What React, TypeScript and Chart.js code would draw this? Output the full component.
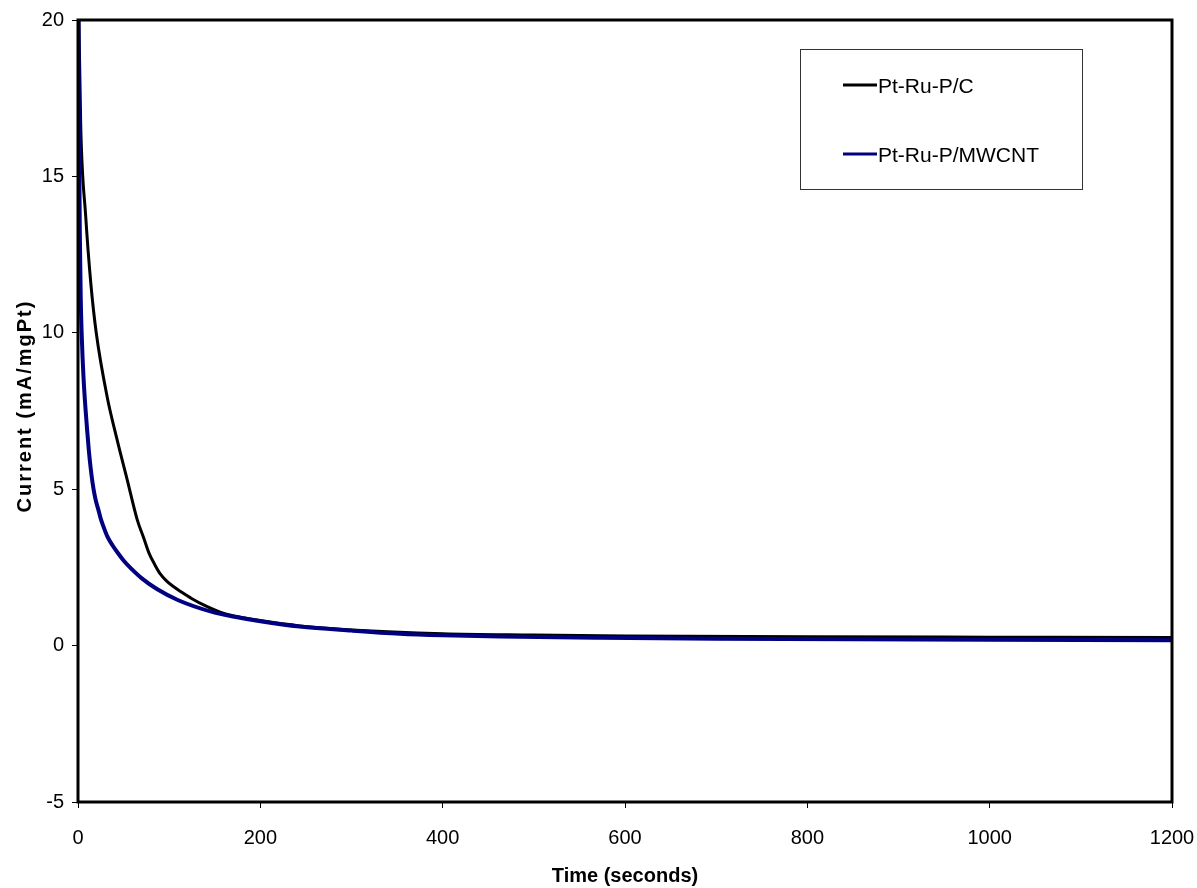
import React, { useEffect, useRef } from "react";
import { Chart, registerables } from "chart.js";

Chart.register(...registerables);

const seriesLabels = ["Pt-Ru-P/C", "Pt-Ru-P/MWCNT"];
const seriesColors = ["#000000", "#000080"];

const cTimes = [0, 1, 3, 8.4, 14, 20, 32, 43, 54, 65, 72, 78, 84, 90, 97, 105, 113, 125, 140, 160, 180, 200, 243, 300, 400, 500, 600, 800, 1000, 1200];
const cValues = [22, 20, 16.6, 13.75, 11.6, 10, 7.95, 6.57, 5.3, 4.02, 3.45, 2.95, 2.6, 2.3, 2.07, 1.88, 1.72, 1.5, 1.27, 1.03, 0.9, 0.8, 0.63, 0.5, 0.38, 0.34, 0.31, 0.28, 0.27, 0.26];

const mwTimes = [0, 1, 2, 3, 4, 6, 10, 12, 14, 16, 18, 20, 22, 25, 28, 32, 38, 44, 50, 57, 70, 87, 110, 149, 170, 200, 243, 300, 353, 400, 463, 573, 700, 850, 1000, 1200];
const mwValues = [24, 17, 13.2, 11.1, 10, 8.6, 6.9, 6.2, 5.65, 5.2, 4.85, 4.58, 4.38, 4.05, 3.8, 3.5, 3.2, 2.95, 2.72, 2.5, 2.15, 1.8, 1.45, 1.06, 0.93, 0.78, 0.61, 0.48, 0.38, 0.33, 0.29, 0.25, 0.22, 0.2, 0.19, 0.17];

const xTitle = "Time (seconds)";
const yTitle = "Current (mA/mgPt)";

const FONT = "'Liberation Sans', Arial, sans-serif";

const frameAndLegend = {
  id: "frameAndLegend",
  afterDraw(chart: any) {
    const { ctx, chartArea } = chart;
    ctx.save();
    ctx.strokeStyle = "#000";
    ctx.lineWidth = 3;
    ctx.strokeRect(chartArea.left, chartArea.top, chartArea.right - chartArea.left, chartArea.bottom - chartArea.top);

    // y axis title with letter spacing
    ctx.save();
    ctx.translate(25, (chartArea.top + chartArea.bottom) / 2 - 5);
    ctx.rotate(-Math.PI / 2);
    ctx.font = `bold 20px ${FONT}`;
    (ctx as any).letterSpacing = "2px";
    ctx.fillStyle = "#000";
    ctx.textAlign = "center";
    ctx.textBaseline = "middle";
    ctx.fillText(yTitle, 0, 0);
    ctx.restore();

    // legend box
    ctx.lineWidth = 1;
    ctx.strokeStyle = "#333";
    ctx.fillStyle = "#fff";
    ctx.fillRect(800.5, 49.5, 282, 140);
    ctx.strokeRect(800.5, 49.5, 282, 140);
    const rows = [85, 154];
    chart.data.datasets.forEach((ds: any, i: number) => {
      const y = rows[i];
      ctx.strokeStyle = ds.borderColor;
      ctx.lineWidth = 3;
      ctx.beginPath();
      ctx.moveTo(843, y);
      ctx.lineTo(877, y);
      ctx.stroke();
      ctx.fillStyle = "#000";
      ctx.font = `21px ${FONT}`;
      ctx.textBaseline = "middle";
      ctx.textAlign = "left";
      ctx.fillText(ds.label, 878, y + 2);
    });
    ctx.restore();
  },
};

export default function App() {
  const ref = useRef<HTMLCanvasElement>(null);
  useEffect(() => {
    if (!ref.current) return;
    const chart = new Chart(ref.current, {
      type: "line",
      data: {
        datasets: [
          {
            label: seriesLabels[0],
            data: cTimes.map((t, i) => ({ x: t, y: cValues[i] })),
            borderColor: seriesColors[0],
            borderWidth: 3,
            pointRadius: 0,
            cubicInterpolationMode: "monotone",
            order: 1,
          },
          {
            label: seriesLabels[1],
            data: mwTimes.map((t, i) => ({ x: t, y: mwValues[i] })),
            borderColor: seriesColors[1],
            borderWidth: 4,
            pointRadius: 0,
            cubicInterpolationMode: "monotone",
            order: 0,
          },
        ],
      },
      options: {
        animation: false,
        responsive: false,
        maintainAspectRatio: false,
        layout: { padding: { left: 0, top: 20, right: 25, bottom: 0 } },
        plugins: { legend: { display: false }, tooltip: { enabled: false } },
        scales: {
          x: {
            type: "linear",
            min: 0,
            max: 1200,
            ticks: {
              stepSize: 200,
              color: "#000",
              font: { family: FONT, size: 20 },
              padding: 18,
              maxRotation: 0,
              callback: (v: any) => String(v),
            },
            grid: { drawOnChartArea: false, drawTicks: true, tickLength: 6, color: "#000" },
            border: { display: false },
            title: { display: true, text: xTitle, color: "#000", font: { family: FONT, size: 20, weight: "bold" }, padding: { top: 0, bottom: 0 } },
            afterFit(scale: any) {
              scale.height = 86;
              scale.paddingLeft = 0;
              scale.paddingRight = 0;
            },
          },
          y: {
            type: "linear",
            min: -5,
            max: 20,
            ticks: { stepSize: 5, color: "#000", font: { family: FONT, size: 20 }, padding: 8, callback: (v: any) => String(v) },
            grid: { drawOnChartArea: false, drawTicks: true, tickLength: 6, color: "#000" },
            border: { display: false },
            title: { display: false, text: yTitle },
            afterFit(scale: any) {
              scale.width = 78;
              scale.paddingTop = 0;
              scale.paddingBottom = 0;
            },
          },
        },
      },
      plugins: [frameAndLegend],
    } as any);
    return () => chart.destroy();
  }, []);
  return (
    <div style={{ position: "absolute", left: 0, top: 0, width: 1197, height: 888, background: "#fff" }}>
      <canvas ref={ref} width={1197} height={888} style={{ width: 1197, height: 888, display: "block" }} />
    </div>
  );
}
